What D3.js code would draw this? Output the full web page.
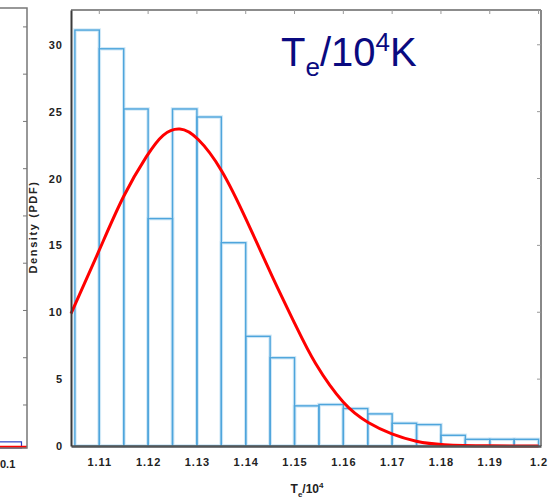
<!DOCTYPE html>
<html>
<head>
<meta charset="utf-8">
<script src="https://cdn.jsdelivr.net/npm/d3@7"></script>
<style>
  body { margin: 0; background: #fff; }
  svg { display: block; font-family: "Liberation Sans", Arial, sans-serif; }
</style>
</head>
<body>
<svg id="chart" width="560" height="498"></svg>
<script>
// histogram bins (T_e / 10^4), bin width 0.005
const binStarts = [1.105, 1.11, 1.115, 1.12, 1.125, 1.13, 1.135, 1.14, 1.145, 1.15,
  1.155, 1.16, 1.165, 1.17, 1.175, 1.18, 1.185, 1.19, 1.195]
const binDensity = [31.1, 29.7, 25.2, 17.0, 25.2, 24.6, 15.2, 8.2, 6.6, 3.0,
  3.1, 2.8, 2.4, 1.7, 1.6, 0.8, 0.5, 0.5, 0.5]
const binWidth = 0.005

// fitted pdf
const curveX = [1.1042, 1.1101, 1.1149, 1.1200, 1.1230, 1.1265, 1.1300, 1.1351, 1.1402,
  1.1457, 1.1504, 1.1538, 1.1603, 1.1651, 1.1699, 1.1750, 1.1798, 1.1900, 1.2000]
const curveY = [9.9, 14.7, 18.8, 21.9, 23.4, 23.9, 23.2, 20.8, 16.9,
  12.4, 8.9, 6.3, 2.9, 1.7, 0.85, 0.3, 0.07, 0, 0]

const xTickLabels = ['1.11', '1.12', '1.13', '1.14', '1.15', '1.16', '1.17', '1.18', '1.19', '1.2']
const yTickValues = [0, 5, 10, 15, 20, 25, 30]

// neighbouring panel (only its right edge is visible)
const leftTickValues = [1, 2, 3, 4, 5, 6, 7, 8, 9]
const leftBins = [[0.0945, 0.0990, 0.13]]

const svg = d3.select('#chart')
const margin = { left: 71, right: 541, top: 10, bottom: 446 }

const x = d3.scaleLinear().domain([1.1042, 1.2005]).range([margin.left, margin.right])
const y = d3.scaleLinear().domain([0, 32.6]).range([margin.bottom, margin.top])

// ---- left (cropped) panel ----
const lx = d3.scaleLinear().domain([0.0951, 0.1]).range([0, 27])
const ly = d3.scaleLinear().domain([0.09, 9.4]).range([448, 8])
const leftG = svg.append('g')
leftG.selectAll('rect.lb').data(leftBins).enter().append('rect')
  .attr('class', 'lb')
  .attr('x', d => lx(d[0]))
  .attr('y', d => ly(d[2] + 0.09))
  .attr('width', d => lx(d[1]) - lx(d[0]))
  .attr('height', d => ly(0.09) - ly(d[2] + 0.09))
  .attr('fill', 'none')
  .attr('stroke', '#2b3fc4')
  .attr('stroke-width', 1.2)
leftG.append('line')
  .attr('x1', 0).attr('x2', lx(0.1))
  .attr('y1', 447).attr('y2', 447)
  .attr('stroke', 'red').attr('stroke-width', 2.5)
leftG.append('path')
  .attr('d', `M0 ${ly.range()[1]}H${lx(0.1)}V${ly.range()[0]}H0`)
  .attr('fill', 'none').attr('stroke', '#777').attr('stroke-width', 1.5)
leftG.selectAll('line.lt').data(leftTickValues).enter().append('line')
  .attr('class', 'lt')
  .attr('x1', lx(0.1) - 4).attr('x2', lx(0.1))
  .attr('y1', d => ly(d)).attr('y2', d => ly(d))
  .attr('stroke', '#777').attr('stroke-width', 1)
leftG.append('text')
  .attr('x', 0).attr('y', 468)
  .attr('font-size', 11).attr('font-weight', 'bold').attr('fill', '#222')
  .text('0.1')

// ---- main panel ----
const bars = svg.append('g')
const barData = binStarts.map((s, i) => ({ x0: s, x1: s + binWidth, v: binDensity[i] }))
// pale halo round the bar outlines
bars.selectAll('rect.halo').data(barData).enter().append('rect')
  .attr('class', 'halo')
  .attr('x', d => x(d.x0))
  .attr('y', d => y(d.v))
  .attr('width', d => x(d.x1) - x(d.x0))
  .attr('height', d => y(0) - y(d.v))
  .attr('fill', 'none')
  .attr('stroke', '#d2e9f7')
  .attr('stroke-width', 3.5)
bars.selectAll('rect.bar').data(barData).enter().append('rect')
  .attr('class', 'bar')
  .attr('x', d => x(d.x0))
  .attr('y', d => y(d.v))
  .attr('width', d => x(d.x1) - x(d.x0))
  .attr('height', d => y(0) - y(d.v))
  .attr('fill', 'none')
  .attr('stroke', '#4ea5dc')
  .attr('stroke-width', 1.4)

const line = d3.line()
  .x(d => x(d[0]))
  .y(d => y(d[1]))
  .curve(d3.curveBasis)
svg.append('path')
  .datum(curveX.map((v, i) => [v, curveY[i]]))
  .attr('d', line)
  .attr('fill', 'none')
  .attr('stroke', '#ff0000')
  .attr('stroke-width', 3)

// frame: top + right in lighter grey with inward ticks
svg.append('line')
  .attr('x1', margin.left).attr('x2', margin.right)
  .attr('y1', margin.top).attr('y2', margin.top)
  .attr('stroke', '#666').attr('stroke-width', 1.5)
svg.append('line')
  .attr('x1', margin.right).attr('x2', margin.right)
  .attr('y1', margin.top).attr('y2', margin.bottom)
  .attr('stroke', '#888').attr('stroke-width', 2)
svg.selectAll('line.tt').data(xTickLabels).enter().append('line')
  .attr('class', 'tt')
  .attr('x1', d => x(+d)).attr('x2', d => x(+d))
  .attr('y1', margin.top).attr('y2', margin.top + 4)
  .attr('stroke', '#999').attr('stroke-width', 1)
svg.selectAll('line.rt').data(yTickValues.slice(1)).enter().append('line')
  .attr('class', 'rt')
  .attr('x1', margin.right - 4).attr('x2', margin.right)
  .attr('y1', d => y(d)).attr('y2', d => y(d))
  .attr('stroke', '#999').attr('stroke-width', 1)

const xAxis = svg.append('g')
  .attr('transform', `translate(0,${margin.bottom})`)
  .call(d3.axisBottom(x)
    .tickValues(xTickLabels.map(Number))
    .tickFormat((d, i) => xTickLabels[i])
    .tickSize(0)
    .tickPadding(12))
xAxis.select('.domain').attr('stroke', '#555').attr('stroke-width', 2.5)

const yAxis = svg.append('g')
  .attr('transform', `translate(${margin.left},0)`)
  .call(d3.axisLeft(y)
    .tickValues(yTickValues)
    .tickSize(0)
    .tickPadding(8))
yAxis.select('.domain').attr('stroke', '#3a3a3a').attr('stroke-width', 2)

svg.selectAll('.tick text')
  .attr('font-family', '"Liberation Sans", Arial, sans-serif')
  .attr('font-size', 11)
  .attr('font-weight', 'bold')
  .attr('fill', '#222')
  .attr('letter-spacing', 1)

// axis titles
svg.append('text')
  .attr('transform', 'translate(37,227) rotate(-90)')
  .attr('text-anchor', 'middle')
  .attr('font-size', 11)
  .attr('font-weight', 'bold')
  .attr('fill', '#222')
  .attr('letter-spacing', 1.6)
  .text('Density (PDF)')

const xTitle = svg.append('text')
  .attr('x', 307).attr('y', 493)
  .attr('text-anchor', 'middle')
  .attr('font-size', 12)
  .attr('font-weight', 'bold')
  .attr('fill', '#222')
xTitle.append('tspan').text('T')
xTitle.append('tspan').attr('font-size', 8).attr('dy', 4).text('e')
xTitle.append('tspan').attr('dy', -4).text('/10')
xTitle.append('tspan').attr('font-size', 8).attr('dy', -5).text('4')

// panel label
const label = svg.append('text')
  .attr('x', 281).attr('y', 66)
  .attr('font-size', 40)
  .attr('fill', '#0a0a80')
label.append('tspan').text('T')
label.append('tspan').attr('font-size', 26).attr('dy', 10).text('e')
label.append('tspan').attr('dy', -10).text('/10')
label.append('tspan').attr('font-size', 26).attr('dy', -15).text('4')
label.append('tspan').attr('dy', 15).text('K')
</script>
</body>
</html>
